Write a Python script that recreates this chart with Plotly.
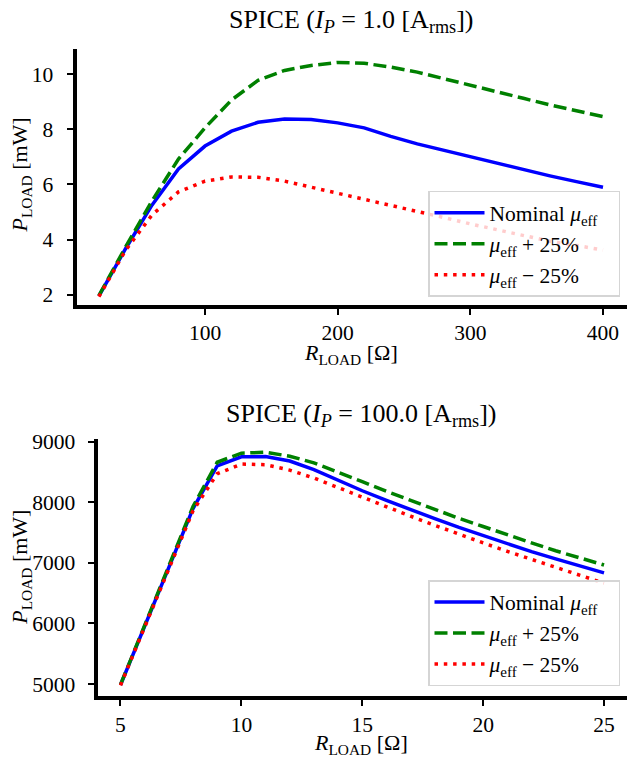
import plotly.graph_objects as go

# ---- Top panel data (I_P = 1.0 A_rms) ----
r_top = [20, 40, 60, 80, 100, 120, 140, 160, 180, 200, 220, 240, 260, 280, 300, 320, 340, 360, 380, 400]
p_nom_top = [1.95, 3.66, 5.25, 6.56, 7.39, 7.93, 8.25, 8.37, 8.35, 8.23, 8.05, 7.74, 7.47, 7.24, 7.00, 6.76, 6.52, 6.31, 6.10, 5.90]
p_plus_top = [1.97, 3.72, 5.40, 6.92, 8.05, 9.06, 9.77, 10.13, 10.31, 10.42, 10.39, 10.25, 10.07, 9.84, 9.60, 9.36, 9.12, 8.88, 8.68, 8.46]
p_minus_top = [1.93, 3.60, 4.89, 5.73, 6.12, 6.27, 6.26, 6.12, 5.90, 5.68, 5.49, 5.27, 5.04, 4.80, 4.57, 4.36, 4.12, 3.94, 3.79, 3.62]

# ---- Bottom panel data (I_P = 100.0 A_rms) ----
r_bot = [5, 6, 7, 8, 9, 10, 11, 12, 13, 14, 15, 16, 17, 18, 19, 20, 21, 22, 23, 24, 25]
p_nom_bot = [4985, 5950, 6920, 7895, 8600, 8750, 8755, 8680, 8540, 8360, 8190, 8030, 7875, 7730, 7585, 7450, 7315, 7185, 7065, 6945, 6835]
p_plus_bot = [4990, 5965, 6940, 7930, 8660, 8810, 8825, 8760, 8650, 8500, 8340, 8180, 8030, 7880, 7735, 7600, 7460, 7330, 7200, 7080, 6965]
p_minus_bot = [4980, 5940, 6900, 7860, 8470, 8630, 8620, 8530, 8400, 8240, 8080, 7920, 7770, 7620, 7470, 7330, 7190, 7060, 6930, 6800, 6665]

x_ticks_top = [100, 200, 300, 400]
y_ticks_top = [2, 4, 6, 8, 10]
x_ticks_bot = [5, 10, 15, 20, 25]
y_ticks_bot = [5000, 6000, 7000, 8000, 9000]

PAD = "\u00a0\u00a0\u00a0"
names = ["Nominal <i>μ</i><sub>eff</sub>" + PAD, "<i>μ</i><sub>eff</sub> + 25%", "<i>μ</i><sub>eff</sub> − 25%"]
colors = ["#0000ff", "#008000", "#ff0000"]
dashes = ["solid", "13px,5.5px", "3.5px,5.8px"]
LW = 3.5
FONT = "Liberation Serif"

fig = go.Figure()
for i, (ys, nm, c, d) in enumerate(zip([p_nom_top, p_plus_top, p_minus_top], names, colors, dashes)):
    fig.add_trace(go.Scatter(x=r_top, y=ys, mode="lines", name=nm, xaxis="x", yaxis="y",
                             legendgroup="t%d" % i,
                             line=dict(color=c, width=LW, dash=d), legend="legend"))
for i, (ys, nm, c, d) in enumerate(zip([p_nom_bot, p_plus_bot, p_minus_bot], names, colors, dashes)):
    fig.add_trace(go.Scatter(x=r_bot, y=ys, mode="lines", name=nm, xaxis="x2", yaxis="y2",
                             legendgroup="b%d" % i,
                             line=dict(color=c, width=LW, dash=d), legend="legend2"))

W, H = 627, 762
def px(v):
    return v / W
def py(v):
    return (H - v) / H

TICKF = dict(family=FONT, size=21.5, color="black")
axcommon = dict(showline=True, linecolor="black", linewidth=4, mirror=False, showgrid=False,
                zeroline=False, ticks="outside", ticklen=6, tickwidth=1.5, tickcolor="black",
                tickfont=TICKF)

legcommon = dict(xanchor="right", yanchor="bottom",
                 bgcolor="rgba(255,255,255,0.8)", bordercolor="#d5d5d5", borderwidth=1.5,
                 font=dict(family=FONT, size=21.5, color="black"), tracegroupgap=0,
                 itemwidth=50)

fig.update_layout(
    width=W, height=H, margin=dict(l=0, r=0, t=0, b=0),
    paper_bgcolor="white", plot_bgcolor="white",
    font=dict(family=FONT, color="black"),
    xaxis=dict(domain=[px(76.5), 1], range=[3.14, 418.1], tickvals=x_ticks_top, anchor="y", **axcommon),
    yaxis=dict(domain=[py(301), py(42)], range=[1.643, 10.893], tickvals=y_ticks_top, anchor="x",
               ticklabelstandoff=9, **axcommon),
    xaxis2=dict(domain=[px(97.5), 1], range=[4.049, 25.95], tickvals=x_ticks_bot, anchor="y2", **axcommon),
    yaxis2=dict(domain=[py(698), py(437)], range=[4805, 9049], tickvals=y_ticks_bot, anchor="x2",
                ticklabelstandoff=8, **axcommon),
    legend=dict(x=px(620), y=py(293), **legcommon),
    legend2=dict(x=px(620), y=py(688), **legcommon),
    annotations=[
        dict(text="SPICE (<i>I<sub>P</sub></i> = 1.0 [A<sub>rms</sub>])", x=px(351), y=py(13),
             xanchor="center", yanchor="middle",
             xref="paper", yref="paper", showarrow=False, font=dict(family=FONT, size=26)),
        dict(text="SPICE (<i>I<sub>P</sub></i> = 100.0 [A<sub>rms</sub>])", x=px(361), y=py(413),
             xanchor="center", yanchor="middle",
             xref="paper", yref="paper", showarrow=False, font=dict(family=FONT, size=26)),
        dict(text="<i>R</i><sub>LOAD</sub> [Ω]", x=px(351), y=py(351),
             xanchor="center", yanchor="middle",
             xref="paper", yref="paper", showarrow=False, font=dict(family=FONT, size=22)),
        dict(text="<i>R</i><sub>LOAD</sub> [Ω]", x=px(361), y=py(747),
             xanchor="center", yanchor="middle",
             xref="paper", yref="paper", showarrow=False, font=dict(family=FONT, size=22)),
        dict(text="<i>P</i><sub>LOAD</sub> [mW]", x=px(21), y=py(170), textangle=-90,
             xanchor="center", yanchor="middle",
             xref="paper", yref="paper", showarrow=False, font=dict(family=FONT, size=22)),
        dict(text="<i>P</i><sub>LOAD</sub> [mW]", x=px(21), y=py(568), textangle=-90,
             xanchor="center", yanchor="middle",
             xref="paper", yref="paper", showarrow=False, font=dict(family=FONT, size=22)),
    ],
)

fig.write_html("out.html")
